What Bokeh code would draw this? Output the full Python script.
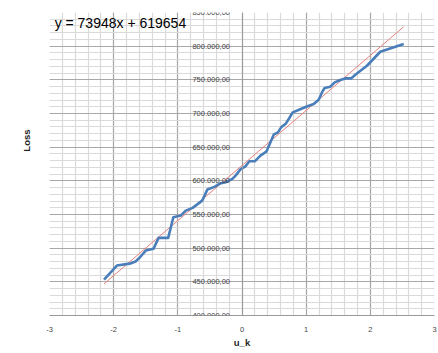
from bokeh.plotting import figure
from bokeh.models import Label, FixedTicker, Range1d, Title
from bokeh.embed import file_html
from bokeh.resources import INLINE

# Data
u_k = [-2.15, -1.95, -1.75, -1.66, -1.59, -1.50, -1.38, -1.30, -1.15, -1.07,
       -0.955, -0.877, -0.77, -0.62, -0.54, -0.43, -0.33, -0.25, -0.15, -0.10,
       -0.025, 0.053, 0.115, 0.20, 0.287, 0.38, 0.427, 0.494, 0.56, 0.61,
       0.685, 0.738, 0.79, 0.88, 1.0, 1.117, 1.195, 1.246, 1.288, 1.377,
       1.444, 1.532, 1.61, 1.70, 1.766, 1.947, 2.155, 2.52]
loss = [453400, 474200, 477000, 480100, 486500, 496400, 499000, 515300, 515300, 545900,
        548400, 555800, 559800, 570600, 587000, 591000, 596500, 598000, 602800, 607700,
        617000, 621500, 629000, 629000, 637400, 643300, 653700, 668500, 672000, 679400,
        685300, 693300, 701600, 705200, 710100, 714100, 720500, 731300, 737900, 739800,
        746200, 749700, 752100, 752100, 757600, 770900, 791700, 803100]

trend_x = [-2.15, 2.52]
trend_y = [447000, 828800]
equation = "y = 73948x + 619654"

x_ticks = [-3, -2, -1, 0, 1, 2, 3]
x_tick_labels = ["-3", "-2", "-1", "0", "1", "2", "3"]
x_minor = [round(-3 + 0.2 * i, 1) for i in range(31)]
y_ticks = [400000, 450000, 500000, 550000, 600000, 650000, 700000, 750000, 800000, 850000]
y_tick_labels = ["400.000,00", "450.000,00", "500.000,00", "550.000,00", "600.000,00",
                 "650.000,00", "700.000,00", "750.000,00", "800.000,00", "850.000,00"]
y_minor = [400000 + 10000 * i for i in range(46)]

p = figure(width=438, height=353, output_backend="svg", toolbar_location=None,
           x_range=Range1d(-3, 3), y_range=Range1d(400000, 850000),
           min_border_left=49, min_border_right=4, min_border_top=12, min_border_bottom=38)
p.outline_line_color = None
p.background_fill_color = "white"
p.border_fill_color = "white"

p.xaxis.ticker = FixedTicker(ticks=x_ticks, minor_ticks=x_minor)
p.yaxis.ticker = FixedTicker(ticks=y_ticks, minor_ticks=y_minor)
p.xaxis.major_label_overrides = dict(zip(x_ticks, x_tick_labels))
p.yaxis.major_label_overrides = dict(zip(y_ticks, y_tick_labels))

p.yaxis.fixed_location = 0

for ax in (p.xaxis, p.yaxis):
    ax.axis_line_color = "#9a9a9a"
    ax.major_tick_line_color = None
    ax.minor_tick_line_color = None
    ax.major_label_text_font = "Liberation Sans"
    ax.major_label_text_font_size = "7.5px"
    ax.major_label_text_color = "#454545"
p.xaxis.major_label_standoff = 5
p.yaxis.major_label_standoff = 6

p.xaxis.axis_label = "u_k"
p.xaxis.axis_label_text_font = "Liberation Sans"
p.xaxis.axis_label_text_font_size = "9.5px"
p.xaxis.axis_label_text_font_style = "bold"
p.xaxis.axis_label_text_color = "#262626"
p.xaxis.axis_label_standoff = 2

p.add_layout(Title(text="Loss", align="right", offset=117, vertical_align="middle",
                   text_font="Liberation Sans", text_font_size="9.5px",
                   text_font_style="bold", text_color="#262626", standoff=34), "left")

p.xgrid.grid_line_color = "#a8a8a8"
p.ygrid.grid_line_color = "#a8a8a8"
p.xgrid.grid_line_width = 1.2
p.ygrid.grid_line_width = 1.2
p.xgrid.minor_grid_line_color = "#dadada"
p.ygrid.minor_grid_line_color = "#dadada"
p.xgrid.minor_grid_line_width = 1.2
p.ygrid.minor_grid_line_width = 1.2

p.line(trend_x, trend_y, line_color="#e8807a", line_width=1)
p.line(u_k, loss, line_color="#4a7ebb", line_width=2.6, line_join="round")

p.add_layout(Label(x=-2.92, y=834700, text=equation, text_font="Liberation Sans",
                   text_font_size="14px", text_color="black", text_baseline="middle",
                   text_align="left"))

open("out.html", "w").write(file_html(p, INLINE))
